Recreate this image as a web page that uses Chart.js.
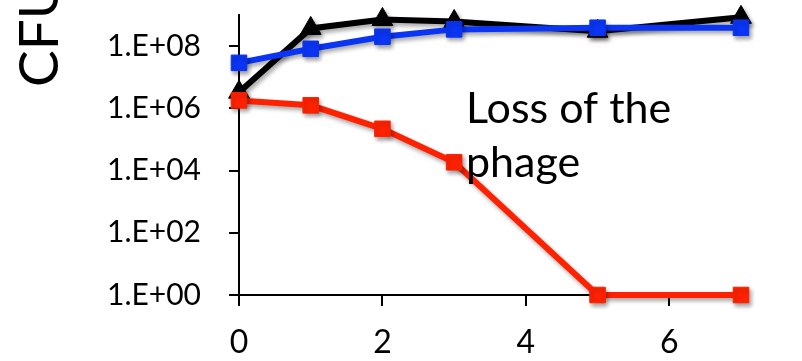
<!DOCTYPE html>
<html>
<head>
<meta charset="utf-8">
<script src="https://cdn.jsdelivr.net/npm/chart.js@4/dist/chart.umd.min.js"></script>
<style>
  html, body { margin: 0; padding: 0; background: #fff; }
  canvas { display: block; }
</style>
</head>
<body>
<canvas id="cfu-chart" width="802" height="361"></canvas>
<script>
/*////////////////////////////////
///            Data            ///
////////////////////////////////*/

const days = [0, 1, 2, 3, 5, 7];
const totalCfu = [3.3e6, 3.7e8, 7.2e8, 6.2e8, 3.0e8, 8.4e8];
const curedCfu = [2.9e7, 8.2e7, 2.0e8, 3.45e8, 3.9e8, 3.9e8];
const lysogenCfu = [1.8e6, 1.25e6, 2.2e5, 1.85e4, 1, 1];

const yTicks = [1, 1e2, 1e4, 1e6, 1e8];
const xTicks = [0, 2, 4, 6];

const fontFamily = 'Lato, "Open Sans", sans-serif';

function points(values) {
  return days.map((d, i) => ({ x: d, y: values[i] }));
}

function expLabel(v) {
  let n = Math.round(Math.log10(v));
  return '1.E+' + String(n).padStart(2, '0');
}

/*////////////////////////////////
///          Plugins           ///
////////////////////////////////*/

// soft drop shadow under lines and markers
const shadowPlugin = {
  id: 'lineShadow',
  beforeDatasetsDraw(chart) {
    let ctx = chart.ctx;
    ctx.save();
    ctx.shadowColor = 'rgba(0, 0, 0, 0.35)';
    ctx.shadowBlur = 4;
    ctx.shadowOffsetX = 2;
    ctx.shadowOffsetY = 3;
  },
  afterDatasetsDraw(chart) {
    chart.ctx.restore();
  }
};

// axis title and note
const textPlugin = {
  id: 'notes',
  afterDraw(chart) {
    let ctx = chart.ctx;
    ctx.save();
    ctx.fillStyle = '#000';
    ctx.textAlign = 'left';
    ctx.textBaseline = 'alphabetic';

    ctx.font = '43px ' + fontFamily;
    ctx.fillText('Loss of the', 466, 123);
    ctx.fillText('phage', 466, 177);

    ctx.translate(58, 87);
    ctx.rotate(-Math.PI / 2);
    ctx.font = '55px ' + fontFamily;
    ctx.fillText('CFU', 0, 0);
    ctx.restore();
  }
};

/*////////////////////////////////
///         CFU Chart          ///
////////////////////////////////*/

function series(label, values, color, style, radius) {
  return {
    label: label,
    data: points(values),
    borderColor: color,
    backgroundColor: color,
    borderWidth: 6,
    pointStyle: style,
    pointRadius: radius,
    pointBorderWidth: 1,
    pointBackgroundColor: color,
    pointBorderColor: color,
    tension: 0,
    clip: false
  };
}

// no extra room for the outer tick labels
function noPadding(scale) {
  scale.paddingTop = 0;
  scale.paddingBottom = 0;
  scale.paddingLeft = 0;
  scale.paddingRight = 0;
}

let cfu = document.getElementById('cfu-chart').getContext('2d');

let cfuChart = new Chart(cfu, {
  type: 'line',
  data: {
    datasets: [
      series('Lysogens', lysogenCfu, '#ff2200', 'rect', 11),
      series('Cured', curedCfu, '#0a35f5', 'rect', 11),
      series('Total', totalCfu, '#000000', 'triangle', 12)
    ]
  },
  options: {
    responsive: false,
    animation: false,
    layout: {
      padding: { top: 15, right: 61, left: 0, bottom: 0 }
    },
    scales: {
      x: {
        type: 'linear',
        min: 0,
        max: 7,
        afterFit: (scale) => { scale.height = 66; noPadding(scale); },
        afterBuildTicks: (scale) => { scale.ticks = xTicks.map(v => ({ value: v })); },
        border: { color: '#000', width: 2 },
        grid: { drawOnChartArea: false, color: '#000', lineWidth: 2, tickLength: 11 },
        ticks: {
          color: '#000',
          padding: 17,
          font: { family: fontFamily, size: 32 },
          callback: (v) => String(v)
        }
      },
      y: {
        type: 'logarithmic',
        min: 1,
        max: 1e9,
        afterFit: (scale) => { scale.width = 239; noPadding(scale); },
        afterBuildTicks: (scale) => { scale.ticks = yTicks.map(v => ({ value: v })); },
        border: { color: '#000', width: 2 },
        grid: { drawOnChartArea: false, color: '#000', lineWidth: 2, tickLength: 10 },
        ticks: {
          color: '#000',
          padding: 28,
          font: { family: fontFamily, size: 30 },
          callback: (v) => expLabel(v)
        }
      }
    },
    plugins: {
      legend: { display: false },
      tooltip: { enabled: false }
    }
  },
  plugins: [shadowPlugin, textPlugin]
});
</script>
</body>
</html>
